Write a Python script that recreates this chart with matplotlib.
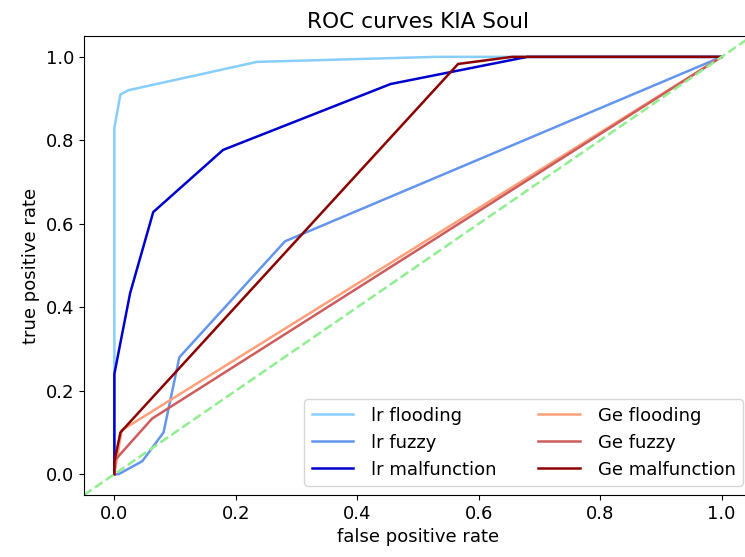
import matplotlib
matplotlib.use("Agg")
import matplotlib.pyplot as plt

plt.rcParams["font.size"] = 13

# ROC points
lr_flooding_fpr = [0.0, 0.0, 0.01, 0.023, 0.235, 0.53, 1.0]
lr_flooding_tpr = [0.0, 0.83, 0.91, 0.92, 0.988, 1.0, 1.0]

lr_fuzzy_fpr = [0.0, 0.007, 0.046, 0.081, 0.107, 0.281, 1.0]
lr_fuzzy_tpr = [0.0, 0.0, 0.031, 0.10, 0.28, 0.558, 1.0]

lr_malf_fpr = [0.0, 0.0, 0.012, 0.026, 0.064, 0.179, 0.455, 0.68, 1.0]
lr_malf_tpr = [0.0, 0.24, 0.33, 0.434, 0.628, 0.777, 0.935, 1.0, 1.0]

ge_flooding_fpr = [0.0, 0.012, 1.0]
ge_flooding_tpr = [0.0, 0.105, 1.0]

ge_fuzzy_fpr = [0.0, 0.002, 0.062, 1.0]
ge_fuzzy_tpr = [0.0, 0.035, 0.133, 1.0]

ge_malf_fpr = [0.0, 0.0, 0.01, 0.566, 0.655, 1.0]
ge_malf_tpr = [0.0, 0.03, 0.10, 0.983, 1.0, 1.0]

fig = plt.figure(figsize=(7.45, 5.57), dpi=100)
ax = fig.add_axes([84 / 745, 62 / 557, 668 / 745, 459 / 557])

ax.plot(lr_flooding_fpr, lr_flooding_tpr, color="lightskyblue", lw=1.8, label="lr flooding")
ax.plot(lr_fuzzy_fpr, lr_fuzzy_tpr, color="cornflowerblue", lw=1.8, label="lr fuzzy")
ax.plot(lr_malf_fpr, lr_malf_tpr, color="mediumblue", lw=1.8, label="lr malfunction")
ax.plot(ge_flooding_fpr, ge_flooding_tpr, color="lightsalmon", lw=1.8, label="Ge flooding")
ax.plot(ge_fuzzy_fpr, ge_fuzzy_tpr, color="indianred", lw=1.8, label="Ge fuzzy")
ax.plot(ge_malf_fpr, ge_malf_tpr, color="darkred", lw=1.8, label="Ge malfunction")

ax.set_xlim(-0.05, 1.05)
ax.set_ylim(-0.05, 1.05)
ax.axline((0, 0), slope=1, color="lightgreen", ls="--", lw=1.8)

ax.set_xlabel("false positive rate")
ax.set_ylabel("true positive rate")
ax.set_title("ROC curves KIA Soul")
ax.legend(loc="lower right", ncol=2, handlelength=2.3, handletextpad=1.0,
          columnspacing=2.3)

fig.savefig("out.png", dpi=100)
